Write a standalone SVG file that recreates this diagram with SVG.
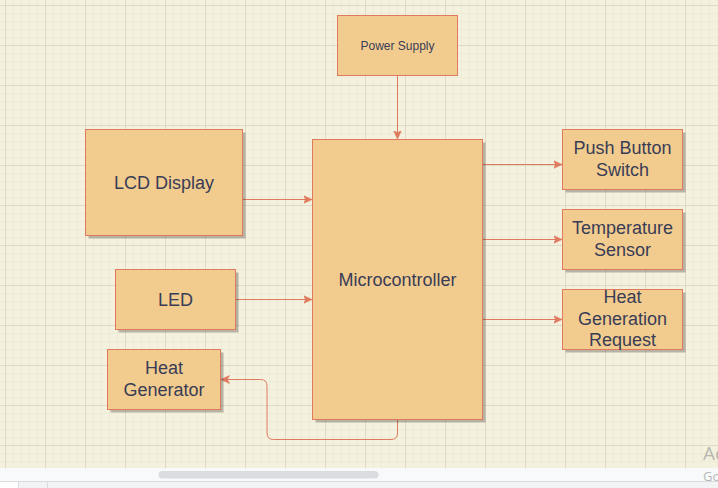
<svg xmlns="http://www.w3.org/2000/svg" width="718" height="488" viewBox="0 0 718 488">
  <defs>
    <pattern id="grid" x="5" y="5" width="40" height="40" patternUnits="userSpaceOnUse">
      <rect width="40" height="40" fill="#F4F1DE"/>
      <path d="M8.5,0V40M16.5,0V40M24.5,0V40M32.5,0V40M0,8.5H40M0,16.5H40M0,24.5H40M0,32.5H40" stroke="#EEEBD7" stroke-width="1" fill="none"/>
      <path d="M0.5,0V40M0,0.5H40" stroke="#DEDAC6" stroke-width="1" fill="none"/>
    </pattern>
    <marker id="arrow" markerUnits="userSpaceOnUse" markerWidth="9" markerHeight="9" viewBox="0 0 9 9" refX="8.5" refY="4.5" orient="auto">
      <path d="M0,0.5 L8.5,4.5 L0,8.5 L2.2,4.5 Z" fill="#E07A5F" stroke="#E07A5F" stroke-width="0.6"/>
    </marker>
  </defs>
  <style>
    .box { fill: #F2CC8F; stroke: #E07A5F; stroke-width: 1; }
    .shadow { fill: #000000; fill-opacity: 0.25; }
    .lbl { font-family: "Liberation Sans", Arial, sans-serif; font-size: 18px; fill: #393C56; text-anchor: middle; }
    .edge { fill: none; stroke: #E07A5F; stroke-width: 1; marker-end: url(#arrow); }
    .wm { font-family: "Open Sans", "Liberation Sans", sans-serif; fill: #9a9a9a; fill-opacity: 0.7; }
  </style>

  <!-- canvas background -->
  <rect x="0" y="0" width="718" height="468" fill="url(#grid)"/>

  <!-- connectors -->
  <g id="connectors">
    <path class="edge" d="M397.5,75.5 V139"/>
    <path class="edge" d="M242.5,199.5 H312"/>
    <path class="edge" d="M235.5,299.5 H312"/>
    <path class="edge" d="M482.5,164.5 H562"/>
    <path class="edge" d="M482.5,239.5 H562"/>
    <path class="edge" d="M482.5,319.5 H562"/>
    <path class="edge" d="M397.5,419.5 V433 Q397.5,439.5 391,439.5 H273.5 Q267,439.5 267,433 V386 Q267,379.5 260.5,379.5 H221"/>
  </g>

  <!-- nodes -->
  <g id="power-supply">
    <rect class="box" x="337.5" y="15.5" width="120" height="60"/>
    <text class="lbl" x="397.5" y="49.5" style="font-size:12px">Power Supply</text>
  </g>

  <g id="microcontroller">
    <rect class="shadow" x="315.5" y="142.5" width="170" height="280"/>
    <rect class="box" x="312.5" y="139.5" width="170" height="280"/>
    <text class="lbl" x="397.5" y="285.5">Microcontroller</text>
  </g>

  <g id="lcd-display">
    <rect class="shadow" x="88.5" y="132.5" width="157" height="106"/>
    <rect class="box" x="85.5" y="129.5" width="157" height="106"/>
    <text class="lbl" x="164" y="188.5">LCD Display</text>
  </g>

  <g id="led">
    <rect class="shadow" x="118.5" y="272.5" width="120" height="60"/>
    <rect class="box" x="115.5" y="269.5" width="120" height="60"/>
    <text class="lbl" x="175.5" y="305.5">LED</text>
  </g>

  <g id="heat-generator">
    <rect class="shadow" x="110.5" y="352.5" width="113" height="60"/>
    <rect class="box" x="107.5" y="349.5" width="113" height="60"/>
    <text class="lbl" x="164" y="374">Heat</text>
    <text class="lbl" x="164" y="395.6">Generator</text>
  </g>

  <g id="push-button-switch">
    <rect class="shadow" x="565.5" y="132.5" width="120" height="60"/>
    <rect class="box" x="562.5" y="129.5" width="120" height="60"/>
    <text class="lbl" x="622.5" y="154.3">Push Button</text>
    <text class="lbl" x="622.5" y="175.9">Switch</text>
  </g>

  <g id="temperature-sensor">
    <rect class="shadow" x="565.5" y="212.5" width="120" height="60"/>
    <rect class="box" x="562.5" y="209.5" width="120" height="60"/>
    <text class="lbl" x="622.5" y="234.3">Temperature</text>
    <text class="lbl" x="622.5" y="255.9">Sensor</text>
  </g>

  <g id="heat-generation-request">
    <rect class="shadow" x="565.5" y="292.5" width="120" height="60"/>
    <rect class="box" x="562.5" y="289.5" width="120" height="60"/>
    <text class="lbl" x="622.5" y="303">Heat</text>
    <text class="lbl" x="622.5" y="324.6">Generation</text>
    <text class="lbl" x="622.5" y="346.2">Request</text>
  </g>

  <!-- window chrome: scrollbar area -->
  <rect x="0" y="468" width="718" height="13" fill="#F8F9FA"/>
  <rect x="158.5" y="471" width="220" height="7.5" rx="3.75" fill="#DADCE0"/>
  <rect x="0" y="481" width="718" height="1" fill="#DADCE0"/>
  <rect x="0" y="482" width="718" height="6" fill="#F1F3F4"/>
  <rect x="0" y="482" width="18" height="6" fill="#FFFFFF"/>
  <rect x="18" y="482" width="1" height="6" fill="#DADCE0"/>
  <rect x="47" y="482" width="1" height="6" fill="#DADCE0"/>

  <!-- watermark fragments (cut off at the window edge, as in the reference) -->
  <text class="wm" x="703" y="460" style="font-size:19px">Ac</text>
  <text class="wm" x="703" y="480.5" style="font-size:13px">Go</text>
</svg>
